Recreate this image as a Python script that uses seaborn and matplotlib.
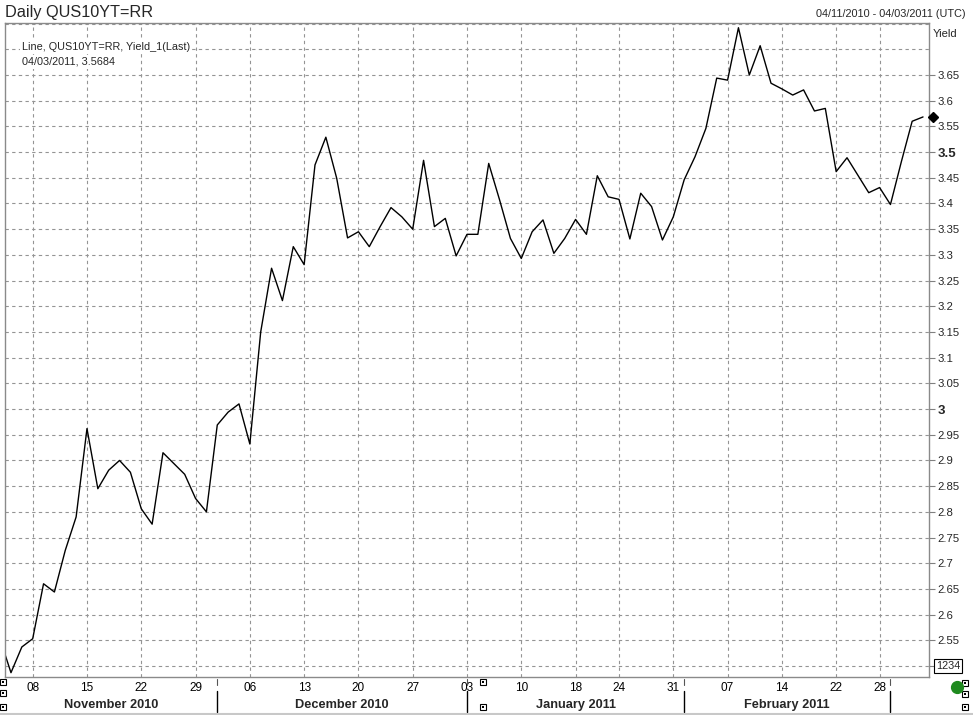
import numpy as np
import pandas as pd
import matplotlib
matplotlib.use("Agg")
import matplotlib.pyplot as plt
import matplotlib.transforms as mtrans
from matplotlib.lines import Line2D
import seaborn as sns

# ---------------- data ----------------
START_DATE = "2010-11-03"
END_DATE = "2011-03-04"
HOLIDAYS = ["2011-01-17", "2011-02-21"]

yields = [
    2.552,                                                   # 03 Nov (clipped)
    2.487, 2.537,                                            # 04-05 Nov
    2.553, 2.660, 2.644, 2.725, 2.790,                       # 08-12 Nov
    2.962, 2.845, 2.881, 2.900, 2.877,                       # 15-19 Nov
    2.806, 2.776, 2.915, 2.894, 2.873,                       # 22-26 Nov
    2.826, 2.800,                                            # 29-30 Nov
    2.969, 2.994, 3.010,                                     # 01-03 Dec
    2.932, 3.150, 3.274, 3.211, 3.316,                       # 06-10 Dec
    3.281, 3.475, 3.529, 3.449, 3.333,                       # 13-17 Dec
    3.345, 3.316, 3.355, 3.392, 3.374,                       # 20-24 Dec
    3.350, 3.484, 3.355, 3.371, 3.298,                       # 27-31 Dec
    3.340, 3.340, 3.478, 3.407, 3.332,                       # 03-07 Jan
    3.293, 3.345, 3.368, 3.303, 3.332,                       # 10-14 Jan
    3.369, 3.340, 3.454, 3.413,                              # 18-21 Jan
    3.408, 3.331, 3.420, 3.394, 3.329,                       # 24-28 Jan
    3.374,                                                   # 31 Jan
    3.446, 3.491, 3.546, 3.644,                              # 01-04 Feb
    3.640, 3.742, 3.650, 3.707, 3.634,                       # 07-11 Feb
    3.623, 3.611, 3.621, 3.580, 3.585,                       # 14-18 Feb
    3.462, 3.489, 3.455, 3.421,                              # 22-25 Feb
    3.431,                                                   # 28 Feb
    3.398, 3.481, 3.560, 3.5684,                             # 01-04 Mar
]

week_tick_dates = ["2010-11-08", "2010-11-15", "2010-11-22", "2010-11-29",
                   "2010-12-06", "2010-12-13", "2010-12-20", "2010-12-27",
                   "2011-01-03", "2011-01-10", "2011-01-18", "2011-01-24",
                   "2011-01-31", "2011-02-07", "2011-02-14", "2011-02-22",
                   "2011-02-28"]
week_tick_labels = ["08", "15", "22", "29", "06", "13", "20", "27", "03",
                    "10", "18", "24", "31", "07", "14", "22", "28"]

month_labels = ["November 2010", "December 2010", "January 2011", "February 2011"]
month_start_dates = ["2010-12-01", "2011-01-03", "2011-02-01", "2011-03-01"]

y_tick_values = [2.5, 2.55, 2.6, 2.65, 2.7, 2.75, 2.8, 2.85, 2.9, 2.95, 3.0,
                 3.05, 3.1, 3.15, 3.2, 3.25, 3.3, 3.35, 3.4, 3.45, 3.5, 3.55,
                 3.6, 3.65]
y_minor_values = [3.7, 3.75]
bold_labels = ["3", "3.5"]

title_text = "Daily QUS10YT=RR"
range_text = "04/11/2010 - 04/03/2011 (UTC)"
legend_line1 = "Line, QUS10YT=RR, Yield_1(Last)"
legend_line2 = "04/03/2011, 3.5684"

# ---------------- build frame ----------------
dates = pd.bdate_range(START_DATE, END_DATE)
dates = dates[~dates.isin(pd.to_datetime(HOLIDAYS))]
assert len(dates) == len(yields)
pos_of = {d: i - 1 for i, d in enumerate(dates)}   # 04 Nov -> 0
df = pd.DataFrame({"pos": [pos_of[d] for d in dates], "Yield": yields})

week_pos = [pos_of[pd.Timestamp(d)] for d in week_tick_dates]
month_pos = [pos_of[pd.Timestamp(d)] for d in month_start_dates]

# ---------------- style ----------------
sns.set_style("white")
plt.rcParams["font.family"] = ["Liberation Sans", "DejaVu Sans"]

W, H = 973, 715
fig = plt.figure(figsize=(W / 100, H / 100), dpi=100)
fig.patch.set_facecolor("white")
ax = fig.add_axes([5 / W, (H - 677) / H, 924 / W, 654 / H])

sns.lineplot(data=df, x="pos", y="Yield", ax=ax, color="black", lw=1.0)

XMIN, XMAX = -0.55, 84.55
ax.set_xlim(XMIN, XMAX)
ax.set_ylim(2.4786, 3.7512)
ax.set_xlabel("")
ax.set_ylabel("")

grid_kw = dict(color="#949494", lw=0.8, ls=(0, (3, 3)))

# x axis
ax.set_xticks(week_pos)
ax.set_xticklabels(week_tick_labels)
ax.tick_params(axis="x", length=0, pad=3.5, labelsize=8.5, colors="black")
ax.grid(True, axis="x", which="major", **grid_kw)

# y axis on right
ax.yaxis.tick_right()
ax.set_yticks(y_tick_values)
ax.set_yticks(y_minor_values, minor=True)
ax.set_yticklabels(["" if v == 2.5 else f"{v:g}" for v in y_tick_values])
ax.tick_params(axis="y", which="major", length=4, width=0.8, color="#808080",
               pad=2, labelsize=8.2, direction="out")
ax.tick_params(axis="y", which="minor", length=0)
ax.grid(True, axis="y", which="both", **grid_kw)
for lbl in ax.get_yticklabels():
    if lbl.get_text() in bold_labels:
        lbl.set_fontweight("bold")
        lbl.set_fontsize(9.5)

for s in ax.spines.values():
    s.set_color("#8a8a8a")
    s.set_linewidth(1.0)

# last value diamond on axis
ax.plot([1.0045], [yields[-1]], marker="D", ms=5.5, color="black",
        transform=ax.get_yaxis_transform(), clip_on=False, zorder=5)

# "1234" box at 2.5
ax.text(1.0075, 2.5, "1234", transform=ax.get_yaxis_transform(),
        ha="left", va="center", fontsize=7.8,
        bbox=dict(boxstyle="square,pad=0.15", fc="white", ec="black", lw=0.8))

# legend text
ax.text((22 - 5) / 924, 1 - (49.5 - 23) / 654, legend_line1,
        transform=ax.transAxes, fontsize=7.8, ha="left", va="baseline",
        bbox=dict(boxstyle="square,pad=0.2", fc="white", ec="none"), zorder=6)
ax.text((22 - 5) / 924, 1 - (65 - 23) / 654, legend_line2,
        transform=ax.transAxes, fontsize=7.8, ha="left", va="baseline",
        bbox=dict(boxstyle="square,pad=0.2", fc="white", ec="none"), zorder=6)

# titles
fig.text(5 / W, 1 - 17.5 / H, title_text, fontsize=11.7, ha="left", va="baseline")
fig.text(966 / W, 1 - 17 / H, range_text, fontsize=7.8, ha="right", va="baseline")
fig.text(933 / W, 1 - 37 / H, "Yield", fontsize=8, ha="left", va="baseline")

# month row
btrans = mtrans.blended_transform_factory(ax.transData, fig.transFigure)
bounds = [XMIN] + month_pos
for i, lab in enumerate(month_labels):
    cx = (bounds[i] + bounds[i + 1]) / 2
    fig.text(cx, 1 - 708 / H, lab, transform=btrans, fontsize=9.2,
             fontweight="bold", ha="center", va="baseline")
for mp in month_pos:
    fig.add_artist(Line2D([mp, mp], [1 - 691 / H, 1 - 712 / H], transform=btrans,
                          color="black", lw=1.0))
    fig.add_artist(Line2D([mp, mp], [1 - 679 / H, 1 - 685 / H], transform=btrans,
                          color="#555555", lw=0.8))

# bottom border
fig.add_artist(Line2D([0, 1], [1 - 714 / H, 1 - 714 / H], transform=fig.transFigure,
                      color="#c8c8c8", lw=1.5))

# small widget icons
def widget(x, y):
    fig.add_artist(Line2D([x / W], [1 - y / H], transform=fig.transFigure,
                          marker="s", ms=5, mfc="white", mec="black", mew=0.8))
    fig.add_artist(Line2D([x / W], [1 - y / H], transform=fig.transFigure,
                          marker="s", ms=2, mfc="black", mec="black", mew=0))

for (x, y) in [(3, 682), (3, 693), (3, 707), (483, 682), (483, 707),
               (965, 683), (965, 694), (965, 707)]:
    widget(x, y)
fig.add_artist(Line2D([957 / W], [1 - 687 / H], transform=fig.transFigure,
                      marker="o", ms=8.5, mfc="#1f8a1f", mec="#1f8a1f"))

fig.savefig("out.png", dpi=100)
